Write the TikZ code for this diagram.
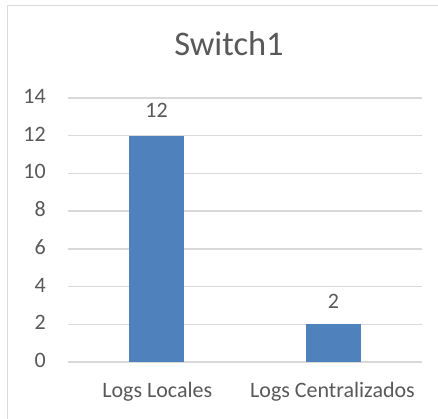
\documentclass[tikz,border=0pt]{standalone}
\usepackage{fontspec}
\setmainfont{Carlito}
\definecolor{barblue}{HTML}{4F81BD}
\definecolor{gridgray}{HTML}{D9D9D9}
\definecolor{txtgray}{HTML}{595959}
\tikzset{
  gridline/.style={draw=gridgray, line width=1.4pt},
  bar/.style={fill=barblue},
  ticklabel/.style={anchor=base east, inner sep=0pt, text=txtgray, font=\fontsize{22}{24}\selectfont},
  catlabel/.style={anchor=base, inner sep=0pt, text=txtgray, font=\fontsize{22}{24}\selectfont},
  datalabel/.style={anchor=base, inner sep=0pt, text=txtgray, font=\fontsize{22}{24}\selectfont},
  titlelabel/.style={anchor=base, inner sep=0pt, text=txtgray, font=\fontsize{34.5}{38}\selectfont},
}
\begin{document}
\begin{tikzpicture}[x=1pt,y=-1pt]
\useasboundingbox (0,0) rectangle (438,419);
\fill[white] (0,0) rectangle (438,419);
% chart border (right and bottom edges fall outside)
\draw[gridgray, line width=1.4pt] (7.5,419) -- (7.5,5.5) -- (438,5.5);
% title
\node[titlelabel] (title) at (229,56) {Switch1};
% gridlines and tick labels
\foreach \v/\n in {0/t0,2/t2,4/t4,6/t6,8/t8,10/t10,12/t12,14/t14}{
  \pgfmathsetmacro{\yy}{362-18.857*\v}
  \draw[gridline] (68,\yy) -- (422,\yy);
  \node[ticklabel] (\n) at (46,\yy+5.5) {\v};
}
% bars
\fill[bar] (129,362) rectangle (184,135.7);
\fill[bar] (306,362) rectangle (361,324.3);
% data labels
\node[datalabel] (d1) at (156.5,117.5) {12};
\node[datalabel] (d2) at (333.5,308) {2};
% category labels
\node[catlabel] (c1) at (157.3,397.7) {Logs Locales};
\node[catlabel] (c2) at (332.5,397.7) {Logs Centralizados};
\end{tikzpicture}
\end{document}
